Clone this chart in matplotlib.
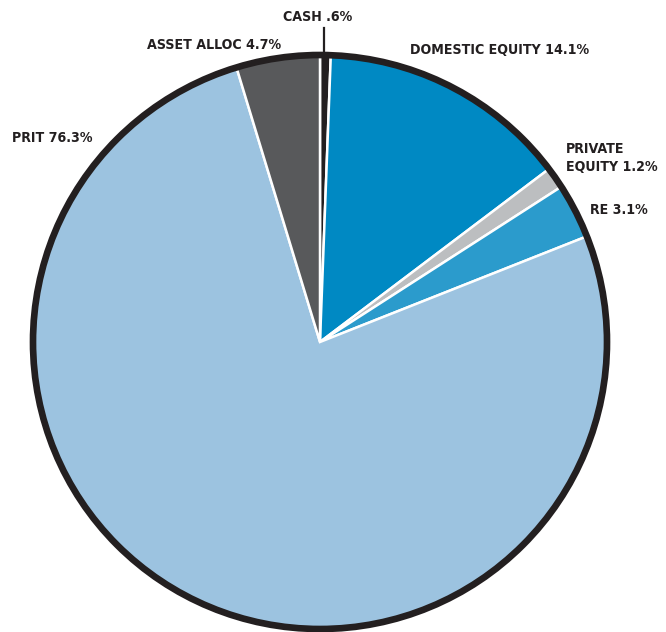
import matplotlib.pyplot as plt
from matplotlib.patches import Circle

labels = ['CASH .6%', 'DOMESTIC EQUITY 14.1%', 'PRIVATE\nEQUITY 1.2%', 'RE 3.1%', 'PRIT 76.3%', 'ASSET ALLOC 4.7%']
values = [0.6, 14.1, 1.2, 3.1, 76.3, 4.7]
colors = ['#231f20', '#0089c3', '#bcbec0', '#2b9bcc', '#9cc3e0', '#58595b']

W, H = 666, 632
fig = plt.figure(figsize=(W / 100, H / 100), dpi=100)
ax = fig.add_axes([0, 0, 1, 1])

cx, cy, r = 320, H - 342, 287
ax.pie(values, colors=colors, startangle=90, counterclock=False,
       center=(cx, cy), radius=r,
       wedgeprops=dict(edgecolor='white', linewidth=1.8))
ax.add_patch(Circle((cx, cy), r, fill=False, edgecolor='#231f20', linewidth=4.8))

ax.set_xlim(0, W)
ax.set_ylim(0, H)
ax.set_aspect('equal')
ax.axis('off')

font = dict(family=['DejaVu Sans'], fontstretch='condensed', fontweight='bold',
            fontsize=10.2, color='#231f20')

# label positions in image pixels (x, y from top), alignment
label_pos = [
    (318, 17, 'center'),
    (410, 50, 'left'),
    (566, 158, 'left'),
    (590, 210, 'left'),
    (12, 138, 'left'),
    (147, 45, 'left'),
]
for lab, (x, y, ha) in zip(labels, label_pos):
    ax.text(x, H - y, lab, ha=ha, va='center', linespacing=1.45, **font)

# leader line for cash
ax.plot([324, 324], [H - 28, H - 58], color='#231f20', linewidth=1.6)

fig.savefig('out.png', dpi=100, facecolor='white')
